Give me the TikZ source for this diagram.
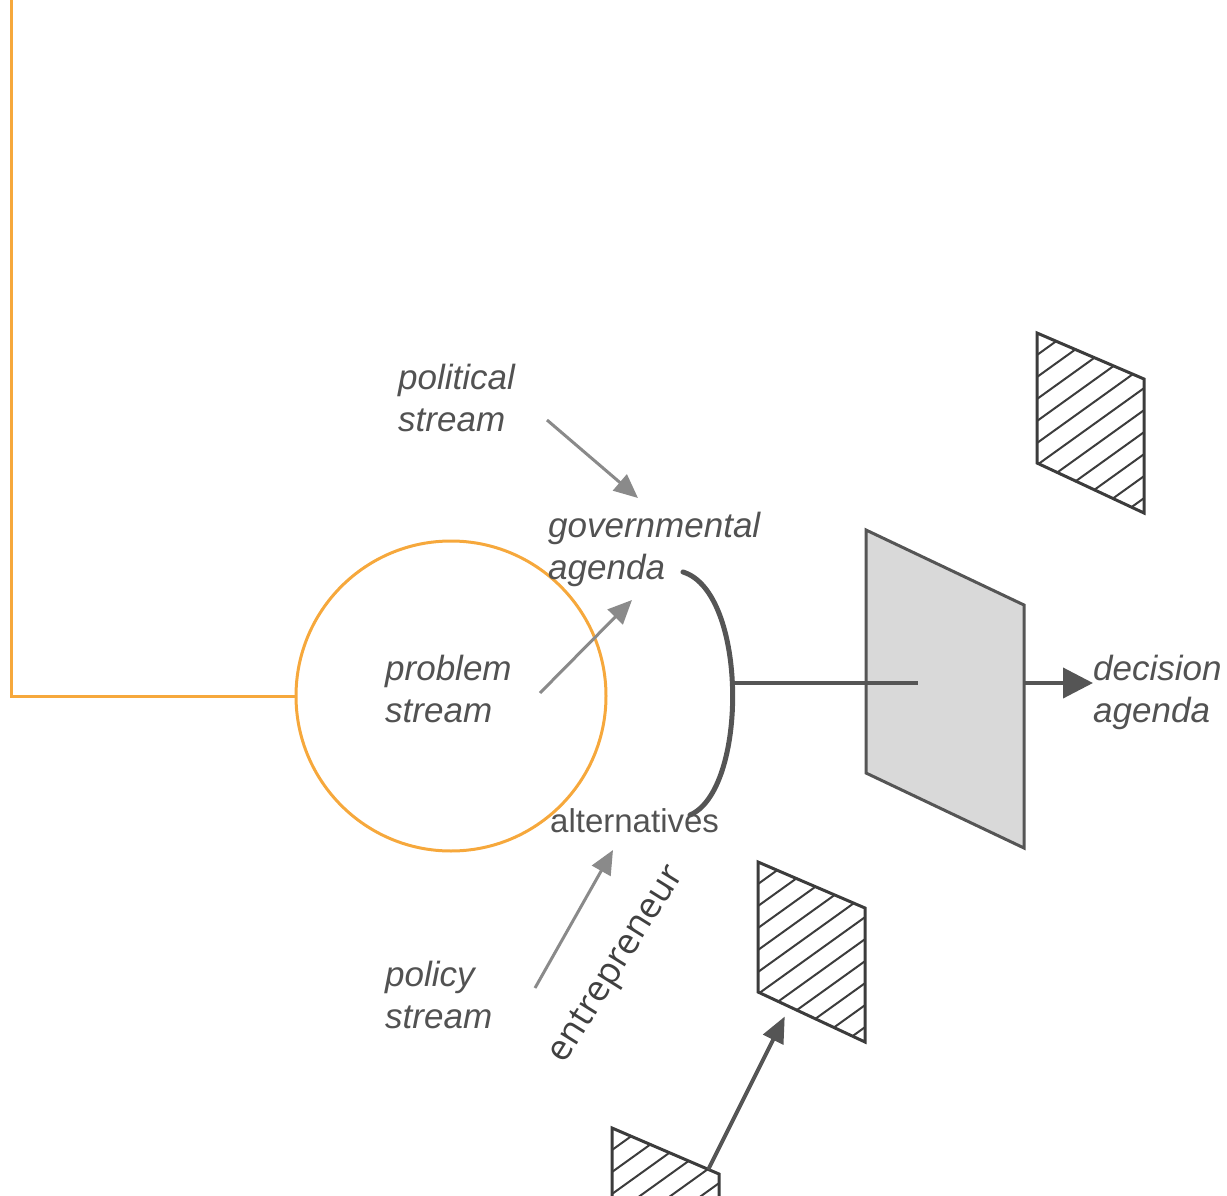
\documentclass[tikz,border=0pt]{standalone}
\usepackage{fontspec}
\setmainfont{Liberation Sans}
\newfontfamily\entfont{Open Sans}
\usetikzlibrary{calc,arrows.meta,positioning}

\definecolor{ringorange}{HTML}{F6A83C}
\definecolor{inkgray}{HTML}{555555}
\definecolor{darkink}{HTML}{3C3C3C}
\definecolor{arrowgray}{HTML}{8A8A8A}
\definecolor{panelgray}{HTML}{D9D9D9}

\tikzset{
  lbl/.style={inner sep=0pt,anchor=north west,align=left,text=black!68,
    font=\itshape\fontsize{35}{42}\selectfont},
  feed/.style={arrowgray,line width=3pt,-{Triangle[length=24pt,width=21pt]}},
  panel/.style={inkgray,line width=3pt,line join=miter},
  hatch/.style={darkink,line width=2pt}
}

% hatched panel: #1 name, #2 top left corner
\newcommand{\hatchpanel}[2]{%
  \begin{scope}[shift={#2}]
    \coordinate (#1-nw) at (0,0);
    \coordinate (#1-ne) at (107,46);
    \coordinate (#1-se) at (107,180);
    \coordinate (#1-sw) at (0,130);
    \begin{scope}
      \clip (#1-nw)--(#1-ne)--(#1-se)--(#1-sw)--cycle;
      \foreach \k in {0,...,14} \draw[hatch] (0,\k*22) -- ++(110,-79);
    \end{scope}
    \draw[panel,darkink] (#1-nw)--(#1-ne)--(#1-se)--(#1-sw)--cycle;
  \end{scope}}

\begin{document}
\begin{tikzpicture}[x=1pt,y=-1pt]
  \useasboundingbox (0,0) rectangle (1227,1196);

  % highlight ring and its leader
  \node[circle,draw=ringorange,line width=3pt,minimum size=310pt,inner sep=0pt](ring)at(451,696){};
  \coordinate(top)at(11,0);
  \draw[ringorange,line width=3pt](top)|-(ring.west);

  % labels
  \node[lbl](pol)at(398,364){political\\stream};
  \node[lbl](gov)at(548,512){governmental\\agenda};
  \node[lbl](prob)at(385,655){problem\\stream};
  \node[lbl](dec)at(1093,655){decision\\agenda};
  \node[lbl](pcy)at(385,961){policy\\stream};
  \node[inner sep=0pt,anchor=base west,text=black!68,font=\fontsize{33}{40}\selectfont](alt)at(550,832){alternatives};
  \node[inner sep=0pt,rotate=58,text=black!75,font=\entfont\fontsize{36}{40}\selectfont](ent)at(618,965){entrepreneur};

  % stream arrows
  \coordinate(a1)at(547,420); \coordinate(a2)at(638,498);
  \coordinate(b1)at(540,693); \coordinate(b2)at(632,600);
  \coordinate(c1)at(535,988); \coordinate(c2)at(613,850);
  \draw[feed](a1)--(a2);
  \draw[feed](b1)--(b2);
  \draw[feed](c1)--(c2);

  % coupling bracket
  \coordinate(br1)at(683,572); \coordinate(br2)at(690,815);
  \coordinate(brm)at(735,683);
  \draw[inkgray,line width=5pt,line cap=round](br1)..controls(748,592)and(748,790)..(br2);

  % window
  \coordinate(w1)at(866,530); \coordinate(w2)at(1024,605);
  \coordinate(w3)at(1024,848); \coordinate(w4)at(866,773);
  \fill[panelgray](w1)--(w2)--(w3)--(w4)--cycle;
  \draw[panel](w1)--(w2)--(w3)--(w4)--cycle;
  \coordinate(wc)at(918,683);
  \draw[inkgray,line width=4pt](brm)--(wc);
  \draw[inkgray,line width=4pt,-{Triangle[length=30pt,width=30pt]}](1024,683)--(dec.west|-1024,683);

  % closed windows
  \hatchpanel{p1}{(1037,333)}
  \hatchpanel{p2}{(758,862)}
  \hatchpanel{p3}{(612,1128)}
  \draw[inkgray,line width=4pt,-{Triangle[length=26pt,width=22pt]}]($(p3-nw)!0.9!(p3-ne)$)--($(p2-sw)!0.25!(p2-se)+(0,12)$);
\end{tikzpicture}
\end{document}
